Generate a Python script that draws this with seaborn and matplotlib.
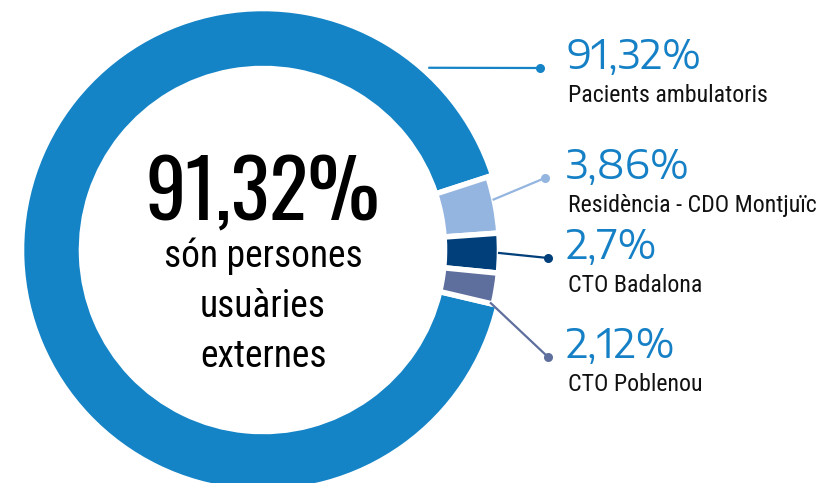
import numpy as np
import matplotlib.pyplot as plt
import seaborn as sns

# data
labels = ['Pacients ambulatoris', 'Residència - CDO Montjuïc', 'CTO Badalona', 'CTO Poblenou']
values = [91.32, 3.86, 2.7, 2.12]
pct_labels = ['91,32%', '3,86%', '2,7%', '2,12%']
center_big = '91,32%'
center_lines = ['són persones', 'usuàries', 'externes']
colors = ['#1584C6', '#94B5E0', '#003F7A', '#5E6F9E']

sns.set_theme(style='white')
plt.rcParams['font.family'] = ['Roboto Condensed', 'Liberation Sans', 'DejaVu Sans']

W, H = 821, 483
fig = plt.figure(figsize=(W / 100, H / 100), dpi=100)
ax = fig.add_axes([0, 0, 1, 1])

cx, cy = 263, H - 250
r_out, r_in, r_small = 241.5, 181.5, 236.5

# small slices start at 18 deg going clockwise, big slice fills the rest
start = 18 - 3.6 * sum(values[1:])
wedges, _ = ax.pie(values, colors=colors, startangle=start, counterclock=False,
                   radius=r_out, center=(cx, cy), frame=True,
                   wedgeprops=dict(width=r_out - r_in, edgecolor='white', linewidth=4))
for w in wedges[1:]:
    w.set_radius(r_small)
    w.set_width(r_small - r_in)
ax.set_xlim(0, W)
ax.set_ylim(0, H)
ax.set_aspect('equal')
ax.axis('off')

# leader lines: start angle / radius on ring, dot position
line_ang = [47.8, 12.3, -0.7, -13.0]
line_r = [246, 235, 235, 233]
dots = [(540, 68), (545, 178), (548, 258), (548, 357)]
for i, w in enumerate(wedges):
    a = np.deg2rad(line_ang[i])
    x0, y0 = cx + line_r[i] * np.cos(a), cy + line_r[i] * np.sin(a)
    dx, dy = dots[i][0], H - dots[i][1]
    ax.plot([x0, dx], [y0, dy], color=colors[i], lw=1.6, solid_capstyle='butt')
    ax.plot(dx, dy, 'o', color=colors[i], ms=6.5, mec='none')
    ax.text(566, dy - 1, pct_labels[i],
            family=['Encode Sans Expanded', 'Montserrat', 'DejaVu Sans'],
            fontstretch='expanded', fontsize=28, color='#1580C5',
            va='baseline', ha='left')
    ax.text(568, dy - 34, labels[i], fontsize=17.2, color='#111111',
            va='baseline', ha='left')

ax.text(cx, H - 220, center_big, family=['Oswald', 'Roboto Condensed', 'DejaVu Sans'],
        fontsize=58, fontweight='bold', color='black', ha='center', va='baseline')
for k, line in enumerate(center_lines):
    ax.text(cx, H - 267 - 50 * k, line, fontsize=27, color='black', ha='center', va='baseline')

fig.savefig('out.png', dpi=100)
